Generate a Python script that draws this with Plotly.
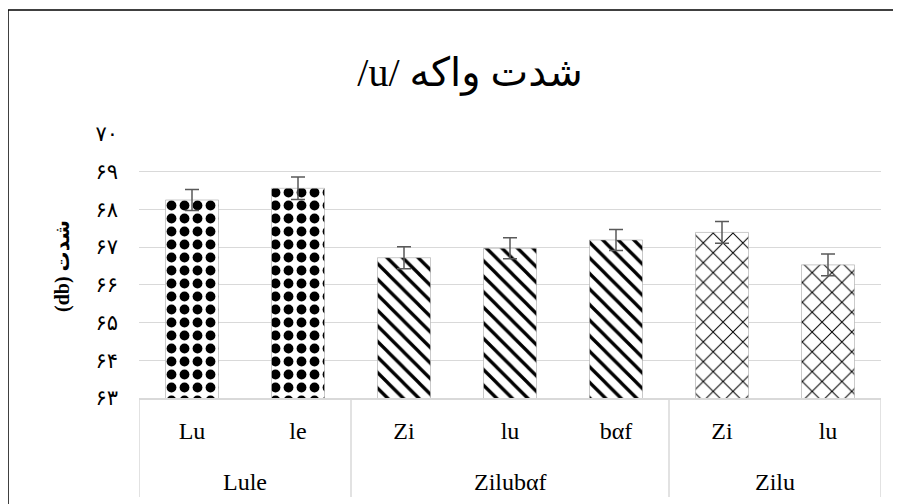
import plotly.graph_objects as go

# values
groups = ["Lule", "Lule", "Zilubαf", "Zilubαf", "Zilubαf", "Zilu", "Zilu"]
subcats = ["Lu", "le", "Zi", "lu", "bαf", "Zi", "lu"]
means = [68.25, 68.56, 66.72, 66.97, 67.19, 67.39, 66.53]
errors = [0.28, 0.30, 0.29, 0.28, 0.28, 0.29, 0.29]

y_ticks = [63, 64, 65, 66, 67, 68, 69, 70]
y_ticktext = ["۶۳", "۶۴", "۶۵", "۶۶", "۶۷", "۶۸", "۶۹", "۷۰"]

title_text = "/u/ شدت واکه"
y_title = "(db) شدت"

# pattern per group: diamonds, stripes, brick
shapes = [".", ".", "\\", "\\", "\\", "x", "x"]
sizes = [13, 13, 11, 11, 11, 14, 14]
solid = [0.45, 0.45, 0.3, 0.3, 0.3, 0.14, 0.14]

serif = "Liberation Serif, DejaVu Sans, serif"
grey = "#d9d9d9"

# the page body adds an 8px offset, so the figure is 8px smaller
W, H = 893, 496
plot_h = H - 126 - 106

pos = list(range(len(subcats)))

# group spans along the category axis
group_names = []
group_idx = {}
for i, g in enumerate(groups):
    if g not in group_idx:
        group_names.append(g)
        group_idx[g] = []
    group_idx[g].append(i)
edges = [group_idx[g][0] - 0.5 for g in group_names] + [len(pos) - 0.5]

fig = go.Figure()

fig.add_trace(go.Bar(
    x=pos,
    y=means,
    width=0.5,
    marker=dict(
        color="white",
        line=dict(width=0.6, color="#a6a6a6"),
        pattern=dict(shape=shapes, size=sizes, solidity=solid,
                     fgcolor="black", bgcolor="white", fgopacity=1,
                     fillmode="replace"),
    ),
    error_y=dict(type="data", array=errors, visible=True,
                 color="#595959", thickness=1.5, width=7),
    showlegend=False,
))

fig.update_layout(
    width=W, height=H,
    margin=dict(l=131, r=20, t=126, b=106),
    paper_bgcolor="white", plot_bgcolor="white",
    title=dict(text=title_text, x=462 / W, xanchor="center",
               y=1 - 64 / H, yanchor="middle", yref="container",
               font=dict(family=serif, size=40, color="black")),
    font=dict(family=serif, color="black"),
)

fig.update_xaxes(
    range=[-0.5, len(pos) - 0.5],
    tickvals=pos, ticktext=subcats,
    showline=True, linecolor=grey, linewidth=2,
    showgrid=False, zeroline=False,
    ticks="", ticklabelstandoff=10,
    tickfont=dict(family=serif, size=24, color="black"),
)

fig.update_yaxes(
    range=[63, 70],
    tickvals=y_ticks, ticktext=y_ticktext,
    showgrid=True, gridcolor=grey, gridwidth=1.2,
    zeroline=False, showline=False,
    ticks="", ticklabelstandoff=20,
    tickfont=dict(family="DejaVu Sans, serif", size=21, color="black"),
    title=dict(text="<b>" + y_title + "</b>", standoff=20,
               font=dict(family=serif, size=20, color="black")),
)

# group labels and the box dividers under the axis
for g in group_names:
    idx = group_idx[g]
    fig.add_annotation(x=sum(idx) / len(idx), y=-84 / plot_h, xref="x", yref="paper",
                       text=g, showarrow=False, yanchor="middle",
                       font=dict(family=serif, size=24, color="black"))
for e in edges:
    fig.add_shape(type="line", xref="x", yref="paper",
                  x0=e, x1=e, y0=0, y1=-99 / plot_h,
                  line=dict(color=grey, width=1.5))

# outer chart frame (only the top and left edges fall inside the crop)
px0 = -131 / 742
py0 = (390 - 2) / plot_h
fig.add_shape(type="line", xref="paper", yref="paper",
              x0=px0, x1=1.1, y0=py0, y1=py0,
              line=dict(color="black", width=1.5))
fig.add_shape(type="line", xref="paper", yref="paper",
              x0=px0, x1=px0, y0=py0, y1=-0.5,
              line=dict(color="black", width=1.5))

fig.write_html("out.html")
